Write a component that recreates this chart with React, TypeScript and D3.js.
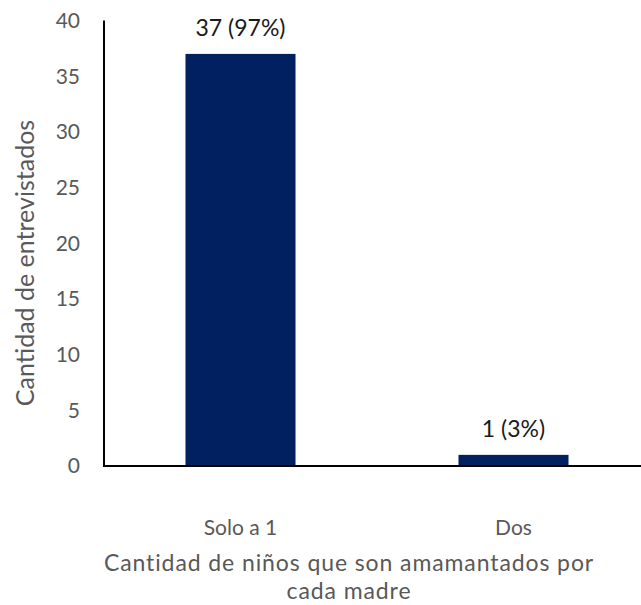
import React, { useEffect, useRef } from 'react';
import * as d3 from 'd3';

const categories = ['Solo a 1', 'Dos'];
const counts = [37, 1];
const labels = ['37 (97%)', '1 (3%)'];
const yTicks = [0, 5, 10, 15, 20, 25, 30, 35, 40];
const yTitle = 'Cantidad de entrevistados';
const xTitleLines = ['Cantidad de niños que son amamantados por', 'cada madre'];

const W = 641;
const H = 605;
const FONT = 'Lato, "Open Sans", sans-serif';

const App: React.FC = () => {
  const svgRef = useRef<SVGSVGElement>(null);

  useEffect(() => {
    if (!svgRef.current) return;
    const svg = d3.select(svgRef.current);
    svg.selectAll('*').remove();

    const left = 104;
    const top = 20.5;
    const bottom = 466;

    const x = d3.scaleBand<string>()
      .domain(categories)
      .range([left, 650])
      .paddingInner(0.597)
      .paddingOuter(0.2985);

    const y = d3.scaleLinear().domain([0, 40]).range([bottom, top]);

    // bars
    svg.append('g')
      .selectAll('rect')
      .data(categories)
      .join('rect')
      .attr('x', d => x(d)!)
      .attr('y', (d, i) => y(counts[i]))
      .attr('width', x.bandwidth())
      .attr('height', (d, i) => bottom - y(counts[i]))
      .attr('fill', '#002060');

    // data labels
    svg.append('g')
      .selectAll('text')
      .data(categories)
      .join('text')
      .attr('x', d => x(d)! + x.bandwidth() / 2)
      .attr('y', (d, i) => y(counts[i]) - 18)
      .attr('text-anchor', 'middle')
      .attr('font-family', FONT)
      .attr('font-size', 23)
      .attr('fill', '#1a1a1a')
      .text((d, i) => labels[i]);

    // y ticks
    svg.append('g')
      .selectAll('text')
      .data(yTicks)
      .join('text')
      .attr('x', 80)
      .attr('y', d => y(d))
      .attr('dy', '0.35em')
      .attr('text-anchor', 'end')
      .attr('font-family', FONT)
      .attr('font-size', 21)
      .attr('fill', '#595959')
      .text(d => d);

    // axes lines
    svg.append('line')
      .attr('x1', left).attr('x2', left)
      .attr('y1', top).attr('y2', bottom)
      .attr('stroke', '#000').attr('stroke-width', 2);
    svg.append('line')
      .attr('x1', left - 1).attr('x2', W)
      .attr('y1', bottom).attr('y2', bottom)
      .attr('stroke', '#000').attr('stroke-width', 2);

    // x tick labels
    svg.append('g')
      .selectAll('text')
      .data(categories)
      .join('text')
      .attr('x', d => x(d)! + x.bandwidth() / 2)
      .attr('y', 528)
      .attr('dy', '0.35em')
      .attr('text-anchor', 'middle')
      .attr('font-family', FONT)
      .attr('font-size', 21)
      .attr('fill', '#595959')
      .text(d => d);

    // y title
    svg.append('text')
      .attr('transform', 'translate(25,263) rotate(-90)')
      .attr('dy', '0.35em')
      .attr('text-anchor', 'middle')
      .attr('font-family', FONT)
      .attr('font-size', 25)
      .attr('fill', '#595959')
      .text(yTitle);

    // x title
    svg.append('g')
      .selectAll('text')
      .data(xTitleLines)
      .join('text')
      .attr('x', 349)
      .attr('y', (d, i) => 571 + i * 28)
      .attr('text-anchor', 'middle')
      .attr('font-family', FONT)
      .attr('font-size', 23)
      .attr('letter-spacing', 0.9)
      .attr('fill', '#595959')
      .text(d => d);
  }, []);

  return (
    <svg
      ref={svgRef}
      width={W}
      height={H}
      style={{ position: 'absolute', left: 0, top: 0, background: '#fff' }}
    />
  );
};

export default App;
